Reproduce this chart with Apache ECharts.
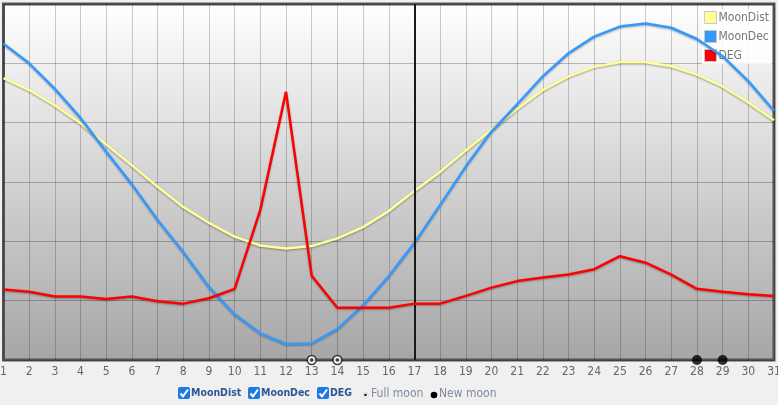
<!DOCTYPE html>
<html>
<head>
<meta charset="utf-8">
<script src="https://cdn.jsdelivr.net/npm/echarts@6/dist/echarts.min.js"></script>
<style>
html,body{margin:0;padding:0;background:#f0f0f0;}
#c{width:778px;height:405px;}
</style>
</head>
<body>
<div id="c"></div>
<script>
// Data (values in chart grid units, 0..60 scale)
var days = ['1','2','3','4','5','6','7','8','9','10','11','12','13','14','15','16','17','18','19','20','21','22','23','24','25','26','27','28','29','30','31'];
var moonDist = [47.5,45.5,42.9,39.9,36.3,32.8,29.2,25.8,23.1,20.8,19.3,18.8,19.2,20.5,22.4,25.1,28.5,31.7,35.3,38.8,42.3,45.5,47.8,49.4,50.2,50.2,49.5,48.1,46.1,43.4,40.4];
var moonDec = [53.3,50.0,45.7,40.8,35.1,29.6,23.6,18.2,12.3,7.7,4.5,2.7,2.8,5.2,9.2,14.1,19.7,26.1,32.6,38.5,43.1,47.8,51.7,54.5,56.2,56.7,56.0,54.1,51.2,47.0,42.0];
var deg = [11.9,11.5,10.7,10.7,10.3,10.7,9.9,9.5,10.4,12.0,25.3,45.2,14.2,8.8,8.8,8.8,9.5,9.5,10.8,12.2,13.3,13.9,14.4,15.3,17.5,16.4,14.4,12.0,11.5,11.1,10.8];
var fullMoonDays = ['13','14'];
var newMoonDays = ['28','29'];
var todayDay = '17';
var yTicks = [0,10,20,30,40,50,60];

var FONT = '"Liberation Sans Narrow","DejaVu Sans Condensed","Liberation Sans",sans-serif';
var chart = echarts.init(document.getElementById('c'));

function checkbox(x, y, label) {
  return {
    type: 'group', x: x, y: y,
    children: [
      {type:'rect', shape:{x:0,y:0,width:12,height:12,r:2}, style:{fill:'#1e78e6'}},
      {type:'polyline', shape:{points:[[2.5,6.5],[5,9.3],[10,2.5]]}, style:{stroke:'#fff',lineWidth:2,fill:null}},
      {type:'text', x:13, y:6, style:{text:label, fill:'#2f5592', font:'bold 10.5px ' + FONT, verticalAlign:'middle'}}
    ]
  };
}

var option = {
  animation: false,
  textStyle: {fontFamily: FONT},
  grid: {
    left: 3.5, right: 4, top: 4, bottom: 45,
    outerBoundsMode: 'none',
    containLabel: false,
    show: true,
    borderColor: '#555',
    borderWidth: 3,
    backgroundColor: new echarts.graphic.LinearGradient(0,0,0,1,[{offset:0,color:'#ffffff'},{offset:1,color:'#a6a6a6'}])
  },
  legend: {
    data: ['MoonDist','MoonDec','DEG'],
    orient: 'vertical',
    right: 6, top: 9,
    padding: [2,3,2,2],
    itemGap: 6,
    itemWidth: 12, itemHeight: 12,
    icon: 'rect',
    backgroundColor: 'rgba(255,255,255,0.85)',
    itemStyle: {borderColor:'#c8c8c8', borderWidth:1},
    textStyle: {color:'#777', fontSize:12, fontFamily: FONT, padding:[0,0,0,-3]}
  },
  xAxis: {
    type: 'category',
    data: days,
    boundaryGap: false,
    axisLine: {show:false},
    axisTick: {show:false},
    axisLabel: {color:'#666', fontSize:12, margin:6, interval:0, fontFamily: FONT},
    splitLine: {show:true, lineStyle:{color:'rgba(0,0,0,0.2)', width:1}}
  },
  yAxis: {
    type: 'value',
    min: yTicks[0], max: yTicks[yTicks.length-1], interval: 10,
    axisLabel: {show:false},
    axisLine: {show:false},
    axisTick: {show:false},
    splitLine: {show:true, lineStyle:{color:'rgba(0,0,0,0.25)', width:1}}
  },
  series: [
    {
      name:'MoonDist', type:'line', data: moonDist, showSymbol:false, symbol:'none',
      color:'#ffff99',
      lineStyle:{color:'#ffff99', width:2.5, shadowColor:'rgba(0,0,0,0.35)', shadowBlur:2, shadowOffsetY:1},
      z: 3
    },
    {
      name:'MoonDec', type:'line', data: moonDec, showSymbol:false, symbol:'none',
      color:'#3399ff',
      lineStyle:{color:'#3399ff', width:2.5, shadowColor:'rgba(0,0,0,0.3)', shadowBlur:2, shadowOffsetY:1},
      z: 4,
      markLine: {
        silent:true, symbol:['none','none'], label:{show:false},
        lineStyle:{color:'#1a1a1a', width:2, type:'solid'},
        data:[{xAxis: todayDay}]
      }
    },
    {
      name:'DEG', type:'line', data: deg, showSymbol:false, symbol:'none',
      color:'#ff0000',
      lineStyle:{color:'#ff0000', width:2.5, shadowColor:'rgba(0,0,0,0.3)', shadowBlur:2, shadowOffsetY:1},
      z: 5
    },
    {
      name:'Full moon', type:'scatter', data: fullMoonDays.map(function(d){return [d,0];}),
      symbol:'circle', symbolSize:9, clip:false, z:10,
      itemStyle:{color:'#ffffff', borderColor:'#111', borderWidth:1.5}
    },
    {
      name:'Full moon dot', type:'scatter', data: fullMoonDays.map(function(d){return [d,0];}),
      symbol:'circle', symbolSize:3.5, clip:false, z:11,
      itemStyle:{color:'#111'}
    },
    {
      name:'New moon', type:'scatter', data: newMoonDays.map(function(d){return [d,0];}),
      symbol:'circle', symbolSize:10, clip:false, z:10,
      itemStyle:{color:'#000'}
    }
  ],
  graphic: [
    checkbox(178, 387, 'MoonDist'),
    checkbox(248, 387, 'MoonDec'),
    checkbox(317, 387, 'DEG'),
    {type:'circle', shape:{cx:365.5, cy:395.5, r:2.8}, style:{fill:'#fff', stroke:'#ccc', lineWidth:0.8}},
    {type:'circle', shape:{cx:365.5, cy:395, r:1.3}, style:{fill:'#111'}},
    {type:'text', x:371, y:394, style:{text:'Full moon', fill:'#7f8ba0', font:'12px ' + FONT, verticalAlign:'middle'}},
    {type:'circle', shape:{cx:434, cy:395, r:3.3}, style:{fill:'#000'}},
    {type:'text', x:439, y:394, style:{text:'New moon', fill:'#7f8ba0', font:'12px ' + FONT, verticalAlign:'middle'}}
  ]
};
chart.setOption(option);
</script>
</body>
</html>
